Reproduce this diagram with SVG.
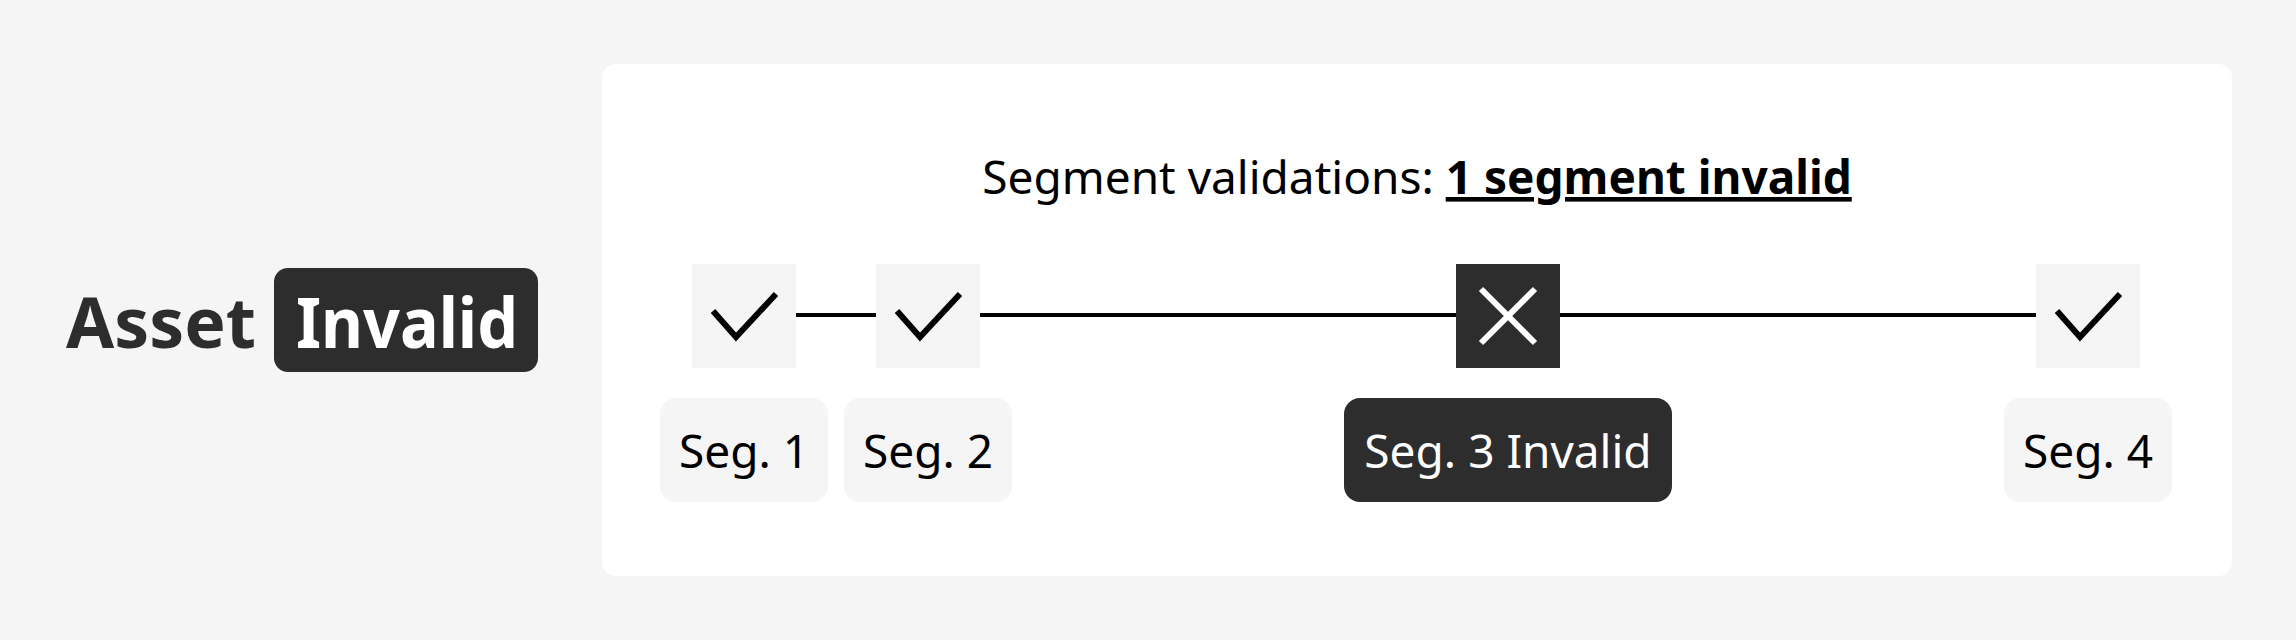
<svg xmlns="http://www.w3.org/2000/svg" width="2296" height="640" viewBox="0 0 2296 640">
  <style>
    .t { font-family: "Noto Sans", "Open Sans", sans-serif; }
    .lbl { font-size: 46px; text-anchor: middle; fill: #000; }
    .box { fill: #f5f5f5; }
    .dark { fill: #2d2d2d; }
    .chk { fill: none; stroke: #000; stroke-width: 6; stroke-linecap: butt; stroke-linejoin: miter; }
    .conn { stroke: #000; stroke-width: 4; }
  </style>
  <rect x="0" y="0" width="2296" height="640" fill="#f5f5f5"/>
  <g id="asset-status">
    <text class="t" x="66" y="348" font-size="70" font-weight="700" fill="#2d2d2d" textLength="190" lengthAdjust="spacingAndGlyphs">Asset</text>
    <rect class="dark" x="274" y="268" width="264" height="104" rx="14"/>
    <text class="t" x="296" y="348" font-size="70" font-weight="700" fill="#fff" textLength="222" lengthAdjust="spacingAndGlyphs">Invalid</text>
  </g>
  <g id="panel">
    <rect x="602" y="64" width="1630" height="512" rx="14" fill="#fff"/>
    <text class="t" x="1417" y="194" font-size="46" fill="#000" text-anchor="middle">Segment validations: <tspan font-weight="700" text-decoration="underline">1 segment invalid</tspan></text>
  </g>
  <g id="connectors">
    <line class="conn" x1="796" y1="315" x2="876" y2="315"/>
    <line class="conn" x1="980" y1="315" x2="1456" y2="315"/>
    <line class="conn" x1="1560" y1="315" x2="2036" y2="315"/>
  </g>
  <g id="seg1">
    <rect class="box" x="692" y="264" width="104" height="104"/>
    <polyline class="chk" points="713,311 736,337 776,294"/>
    <rect class="box" x="660" y="398" width="168" height="104" rx="16"/>
    <text class="t lbl" x="744" y="468">Seg. 1</text>
  </g>
  <g id="seg2">
    <rect class="box" x="876" y="264" width="104" height="104"/>
    <polyline class="chk" points="897,311 920,337 960,294"/>
    <rect class="box" x="844" y="398" width="168" height="104" rx="16"/>
    <text class="t lbl" x="928" y="468">Seg. 2</text>
  </g>
  <g id="seg3">
    <rect class="dark" x="1456" y="264" width="104" height="104"/>
    <path d="M1481,289 L1535,343 M1535,289 L1481,343" stroke="#fff" stroke-width="6" fill="none"/>
    <rect class="dark" x="1344" y="398" width="328" height="104" rx="16"/>
    <text class="t lbl" x="1508" y="468" style="fill:#fff">Seg. 3 Invalid</text>
  </g>
  <g id="seg4">
    <rect class="box" x="2036" y="264" width="104" height="104"/>
    <polyline class="chk" points="2057,311 2080,337 2120,294"/>
    <rect class="box" x="2004" y="398" width="168" height="104" rx="16"/>
    <text class="t lbl" x="2088" y="468">Seg. 4</text>
  </g>
</svg>
